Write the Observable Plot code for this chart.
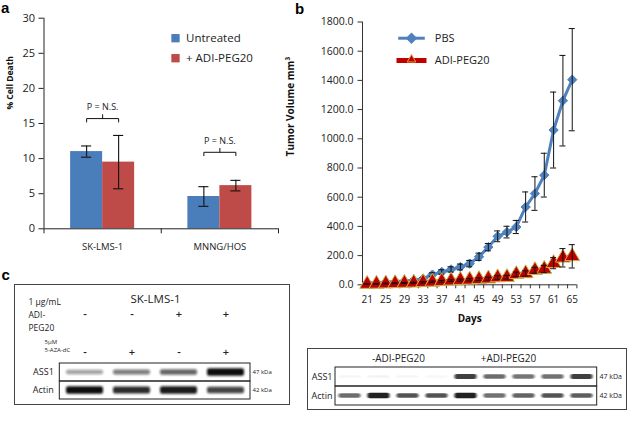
<!DOCTYPE html>
<html><head><meta charset="utf-8">
<script src="https://cdn.jsdelivr.net/npm/d3@7"></script>
<script src="https://cdn.jsdelivr.net/npm/@observablehq/plot@0.6"></script>
<style>
body{margin:0;background:#fff;}
#root{position:relative;width:630px;height:422px;overflow:hidden;background:#fff;font-family:"Open Sans",sans-serif;}
.abs{position:absolute;}
.plabel{position:absolute;font:bold 15px/15px "Liberation Sans",Arial,sans-serif;color:#000;}
.box{position:absolute;border:1px solid #444;box-sizing:border-box;background:#fff;}
</style></head><body><div id="root"></div>
<script>
// ---------- Panel a data ----------
const cellLines = ["SK-LMS-1", "MNNG/HOS"];
const treatments = ["Untreated", "+ ADI-PEG20"];
const untreatedDeath = [11.0, 4.6];
const untreatedErr = [0.8, 1.4];
const adiDeath = [9.5, 6.15];
const adiErr = [3.8, 0.75];
const pLabels = ["P = N.S.", "P = N.S."];
const pBracketY = [15.7, 10.9];
const deathTicks = [0, 5, 10, 15, 20, 25, 30];

// ---------- Panel b data ----------
const days = [21,23,25,27,29,31,33,35,37,39,41,43,45,47,49,51,53,55,57,59,61,63,65];
const pbsVolume = [12,15,18,22,26,32,42,70,88,105,122,145,192,258,332,361,396,533,625,751,1060,1261,1405];
const pbsErr = [3,4,5,5,6,7,8,12,15,18,20,22,25,25,37,40,45,103,115,150,260,310,350];
const adiVolume = [5,6,8,10,12,14,17,20,24,28,32,34,38,42,50,52,72,78,100,108,148,185,195];
const adiVolErr = [2,2,3,3,4,4,5,5,6,6,7,8,9,10,12,12,15,18,20,25,38,63,80];
const seriesNames = ["PBS", "ADI-PEG20"];
const volumeTicks = [0,200,400,600,800,1000,1200,1400,1600,1800];
const dayTicks = [21,25,29,33,37,41,45,49,53,57,61,65];

// ---------- Panel c data ----------
const proteins = ["ASS1", "Actin"];
const kDa = ["47 kDa", "42 kDa"];
const lanesLeft = ["1","2","3","4"];
const adiSigns = ["-","-","+","+"];
const azaSigns = ["-","+","-","+"];
const leftASS1 = [0.4, 0.55, 0.65, 1.0];
const leftActin = [1.0, 0.88, 0.95, 0.78];
const lanesRight = ["1","2","3","4","5","6","7","8","9"];
const rightGroups = ["-ADI-PEG20", "+ADI-PEG20"];
const rightASS1 = [0.04, 0.05, 0.04, 0.03, 0.8, 0.62, 0.58, 0.6, 0.8];
const rightActin = [0.62, 0.92, 0.72, 0.72, 0.92, 0.6, 0.66, 0.72, 0.68];

const FONT = "Open Sans";
const blue = "#4A7EBB", red = "#BE4B48";
const root = document.getElementById("root");
function place(node, left, top, parent = root) {
  const d = document.createElement("div");
  d.className = "abs"; d.style.left = left + "px"; d.style.top = top + "px";
  d.appendChild(node); parent.appendChild(d); return d;
}
const baseStyle = {background: "transparent", fontFamily: FONT, color: "#222", overflow: "visible"};

// ---------- Panel a ----------
const barsA = cellLines.flatMap((c, i) => [
  {cell: i, t: treatments[0], v: untreatedDeath[i], e: untreatedErr[i], x1: i + 0.227, x2: i + 0.5},
  {cell: i, t: treatments[1], v: adiDeath[i], e: adiErr[i], x1: i + 0.5, x2: i + 0.773}
]).map(d => ({...d, xc: (d.x1 + d.x2) / 2}));
const capA = 0.043;
const brackets = cellLines.map((c, i) => {
  const u = barsA[2 * i].xc, a = barsA[2 * i + 1].xc, y = pBracketY[i], m = (u + a) / 2;
  return {label: pLabels[i], m, y, path: [[u, y - 0.48], [u, y], [a, y], [a, y - 0.48]], tick: [[m, y], [m, y + 0.55]]};
});
const catLabels = cellLines.map((c, i) => ({name: c, x: i + 0.5}));
const plotA = Plot.plot({
  width: 285, height: 255, marginLeft: 43.5, marginRight: 7, marginTop: 17.7, marginBottom: 26.7,
  style: {...baseStyle, fontSize: "10px"},
  x: {domain: [0, 2], axis: null},
  y: {domain: [0, 30], axis: null},
  color: {domain: treatments, range: [blue, red]},
  marks: [
    Plot.rectY(barsA, {x1: "x1", x2: "x2", y: "v", fill: "t"}),
    Plot.ruleX(barsA, {x: "xc", y1: d => d.v - d.e, y2: d => d.v + d.e, stroke: "#111", strokeWidth: 1.1}),
    Plot.ruleY(barsA, {y: d => d.v + d.e, x1: d => d.xc - capA, x2: d => d.xc + capA, stroke: "#111", strokeWidth: 1.1}),
    Plot.ruleY(barsA, {y: d => d.v - d.e, x1: d => d.xc - capA, x2: d => d.xc + capA, stroke: "#111", strokeWidth: 1.1}),
    ...brackets.flatMap(b => [
      Plot.line(b.path, {stroke: "#111", strokeWidth: 1}),
      Plot.line(b.tick, {stroke: "#111", strokeWidth: 1})
    ]),
    Plot.text(brackets, {x: "m", y: "y", text: "label", dy: -11, fontSize: 9, fill: "#222"}),
    Plot.ruleX([0], {stroke: "#222"}),
    Plot.ruleY([0], {stroke: "#222"}),
    Plot.axisY({ticks: deathTicks, tickSize: 5, tickPadding: 4, fontSize: 11, label: null, stroke: "#222"}),
    Plot.axisX({ticks: [0, 1, 2], tickSize: 5, tickFormat: () => "", label: null, stroke: "#222"}),
    Plot.text(catLabels, {x: "x", frameAnchor: "bottom", dy: 18.4, text: "name", lineAnchor: "middle", fontSize: 9.5, fill: "#222"}),
    ...treatments.flatMap((t, i) => [
      Plot.dot([t], {frameAnchor: "top-left", dx: 131.5, dy: 20 + i * 20, symbol: "square", r: 4.7, fill: [blue, red][i]}),
      Plot.text([t], {frameAnchor: "top-left", dx: 142, dy: 20 + i * 20, text: d => d, textAnchor: "start", lineAnchor: "middle", fontSize: 11.5, fill: "#222"})
    ]),
    Plot.text(["% Cell Death"], {frameAnchor: "left", dx: -33.5, dy: -14, rotate: -90, text: d => d, lineAnchor: "middle", fontWeight: "bold", fontSize: 8.5, fill: "#111"})
  ]
});
place(plotA, 0, 0);

// ---------- Panel b ----------
const pbsRows = days.map((d, i) => ({day: d, v: pbsVolume[i], e: pbsErr[i]}));
const adiRows = days.map((d, i) => ({day: d, v: adiVolume[i], e: adiVolErr[i]}));
const capB = 0.65;
const boundaries = [...days.map(d => d - 1), days[days.length - 1] + 1];
const lineSwatch = (hw, hh) => ({draw(ctx) { ctx.moveTo(-hw, -hh); ctx.lineTo(hw, -hh); ctx.lineTo(hw, hh); ctx.lineTo(-hw, hh); ctx.closePath(); }});
const errMarks = (rows) => [
  Plot.ruleX(rows, {x: "day", y1: d => d.v - d.e, y2: d => d.v + d.e, stroke: "#111", strokeWidth: 1}),
  Plot.ruleY(rows, {y: d => d.v + d.e, x1: d => d.day - capB, x2: d => d.day + capB, stroke: "#111", strokeWidth: 1}),
  Plot.ruleY(rows, {y: d => d.v - d.e, x1: d => d.day - capB, x2: d => d.day + capB, stroke: "#111", strokeWidth: 1})
];
const plotB = Plot.plot({
  width: 360, height: 330, marginLeft: 92, marginRight: 53.6, marginTop: 21.5, marginBottom: 45.7,
  style: {...baseStyle, fontSize: "10px"},
  x: {domain: [boundaries[0], boundaries[boundaries.length - 1]], axis: null},
  y: {domain: [0, 1800], axis: null},
  marks: [
    Plot.ruleX([boundaries[0]], {stroke: "#333"}),
    Plot.ruleY([0], {stroke: "#333"}),
    Plot.axisY({ticks: volumeTicks, tickSize: 4.5, tickPadding: 4.5, fontSize: 10.5, tickFormat: d => d.toFixed(1), label: null, stroke: "#333"}),
    Plot.axisX({ticks: boundaries, tickSize: 4, tickFormat: () => "", label: null, stroke: "#333"}),
    Plot.axisX({ticks: dayTicks, tickSize: 0, tickPadding: 11, fontSize: 10, label: null}),
    Plot.line(pbsRows, {x: "day", y: "v", stroke: "#4F81BD", strokeWidth: 3}),
    Plot.dot(pbsRows, {x: "day", y: "v", symbol: "diamond2", r: 4.2, fill: "#4F81BD", stroke: "#4F81BD", strokeWidth: 1}),
    ...errMarks(pbsRows),
    Plot.line(adiRows, {x: "day", y: "v", stroke: "#C00000", strokeWidth: 4}),
    Plot.dot(adiRows, {x: "day", y: "v", symbol: "triangle", r: 5.5, fill: "#C00000", stroke: "#C9B24A", strokeWidth: 1}),
    ...errMarks(adiRows),
    // legend
    Plot.dot([seriesNames[0]], {frameAnchor: "top-left", dx: 49, dy: 16.2, symbol: lineSwatch(13.3, 1.5), fill: "#4F81BD"}),
    Plot.dot([seriesNames[0]], {frameAnchor: "top-left", dx: 49, dy: 16.2, symbol: "diamond2", r: 4.2, fill: "#4F81BD", stroke: "#4F81BD"}),
    Plot.dot([seriesNames[1]], {frameAnchor: "top-left", dx: 49, dy: 38.5, symbol: lineSwatch(15, 2.5), fill: "#C00000"}),
    Plot.dot([seriesNames[1]], {frameAnchor: "top-left", dx: 49, dy: 37.5, symbol: "triangle", r: 3.2, fill: "#C00000", stroke: "#E0A040", strokeWidth: 1}),
    ...seriesNames.map((s, i) => Plot.text([s], {frameAnchor: "top-left", dx: 72.3, dy: 16.2 + i * 22.3, text: d => d, textAnchor: "start", lineAnchor: "middle", fontSize: 11, fill: "#222"})),
    Plot.text(["Tumor Volume mm³"], {frameAnchor: "left", dx: -72, dy: 3, rotate: -90, text: d => d, lineAnchor: "middle", fontWeight: "bold", fontSize: 10, fill: "#111"}),
    Plot.text(["Days"], {frameAnchor: "bottom", dy: 33.7, text: d => d, lineAnchor: "middle", fontWeight: "bold", fontSize: 10, fill: "#111"})
  ]
});
place(plotB, 270, 0);

// ---------- Panel c helpers ----------
let blurId = 0;
function blurBars(svg, sd) {
  const id = "blur" + (blurId++);
  const ns = "http://www.w3.org/2000/svg";
  const defs = document.createElementNS(ns, "defs");
  const f = document.createElementNS(ns, "filter");
  f.setAttribute("id", id); f.setAttribute("x", "-30%"); f.setAttribute("y", "-200%");
  f.setAttribute("width", "160%"); f.setAttribute("height", "500%");
  const g = document.createElementNS(ns, "feGaussianBlur");
  g.setAttribute("stdDeviation", sd);
  f.appendChild(g); defs.appendChild(f); svg.insertBefore(defs, svg.firstChild);
  svg.querySelectorAll('g[aria-label="bar"] rect').forEach(r => r.setAttribute("filter", `url(#${id})`));
}
function blotPlot({lanes, ass1, actin, width, height, mL, mR, mT, mB, inset, thick0, thickK, leftFont, leftPad, kdaFont, kdaPad, sd}) {
  const bands = proteins.flatMap((p, pi) => lanes.map((l, li) => {
    const k = (pi ? actin : ass1)[li];
    const t = thick0 + thickK * k;
    return {protein: p, lane: l, k, y1: 0.5 - t / 2, y2: 0.5 + t / 2};
  }));
  const svg = Plot.plot({
    width, height, marginLeft: mL, marginRight: mR, marginTop: mT, marginBottom: mB,
    style: {...baseStyle, fontSize: leftFont + "px"},
    x: {type: "band", domain: lanes, padding: 0, axis: null},
    y: {domain: [0, 1], axis: null},
    fy: {domain: proteins, padding: 0, axis: null},
    marks: [
      Plot.barY(bands, {x: "lane", fy: "protein", y1: "y1", y2: "y2", fill: "#111", fillOpacity: "k", insetLeft: inset, insetRight: inset, rx: 2}),
      Plot.rect(proteins, {fy: d => d, fill: "none", stroke: "#222", strokeWidth: 1}),
      Plot.axisFy({anchor: "left", tickSize: 0, tickPadding: leftPad, fontSize: leftFont, label: null}),
      Plot.axisFy({anchor: "right", tickSize: 0, tickPadding: kdaPad, fontSize: kdaFont, label: null, tickFormat: d => kDa[proteins.indexOf(d)]})
    ]
  });
  blurBars(svg, sd);
  return svg;
}

// ---------- Panel c left ----------
const boxL = document.createElement("div");
boxL.className = "box"; boxL.style.left = "14px"; boxL.style.top = "284px"; boxL.style.width = "276px"; boxL.style.height = "121px";
root.appendChild(boxL);
const signRows = [
  ...lanesLeft.map((l, i) => ({row: "ADI", lane: l, s: adiSigns[i]})),
  ...lanesLeft.map((l, i) => ({row: "AZA", lane: l, s: azaSigns[i]}))
];
const headL = Plot.plot({
  width: 274, height: 90, marginLeft: 44.3, marginRight: 39, marginTop: 8.6, marginBottom: 3.6,
  style: {...baseStyle, fontSize: "9px"},
  x: {type: "band", domain: lanesLeft, padding: 0, axis: null},
  y: {type: "band", domain: ["ADI", "AZA"], padding: 0, axis: null},
  marks: [
    Plot.text(signRows, {x: "lane", y: "row", text: "s", fontSize: 11, fontWeight: 600, fill: "#222"}),
    Plot.text(["SK-LMS-1"], {frameAnchor: "top-left", dx: 70.7, dy: 5.5, text: d => d, lineAnchor: "middle", fontSize: 11.5, fill: "#222"}),
    Plot.text(["1 µg/mL\nADI-\nPEG20"], {frameAnchor: "top-left", dx: -31.3, dy: 19.9, text: d => d, textAnchor: "start", lineAnchor: "middle", fontSize: 8.5, lineHeight: 1.55, fill: "#222"}),
    Plot.text(["5µM\n5-AZA-dC"], {frameAnchor: "top-left", dx: -15.3, dy: 51.6, text: d => d, lineAnchor: "middle", fontSize: 6, lineHeight: 1.2, fill: "#222"})
  ]
});
place(headL, 0, 0, boxL);
const blotL = blotPlot({lanes: lanesLeft, ass1: leftASS1, actin: leftActin, width: 274, height: 48,
  mL: 44.3, mR: 39, mT: 7.3, mB: 3.7, inset: 5, thick0: 0.12, thickK: 0.3, leftFont: 9, leftPad: 6, kdaFont: 6, kdaPad: 2, sd: "1.3 0.9"});
place(blotL, 0, 70, boxL);

// ---------- Panel c right ----------
const boxR = document.createElement("div");
boxR.className = "box"; boxR.style.left = "307px"; boxR.style.top = "348px"; boxR.style.width = "320px"; boxR.style.height = "62px";
root.appendChild(boxR);
const headR = Plot.plot({
  width: 318, height: 19, marginLeft: 35, marginRight: 63, marginTop: 0, marginBottom: 0,
  style: {...baseStyle, fontSize: "10px"},
  x: {type: "band", domain: rightGroups, padding: 0, axis: null},
  marks: [Plot.text(rightGroups, {x: d => d, text: d => d, fontSize: 10, fill: "#222"})]
});
place(headR, 0, 0, boxR);
const blotR = blotPlot({lanes: lanesRight, ass1: rightASS1, actin: rightActin, width: 318, height: 47,
  mL: 27, mR: 29.3, mT: 4.7, mB: 3.3, inset: 3.5, thick0: 0.12, thickK: 0.18, leftFont: 9, leftPad: 3, kdaFont: 7, kdaPad: 2.3, sd: "1.1 0.7"});
place(blotR, 0, 13, boxR);

// ---------- Panel letters ----------
[["a", 1, 0.3], ["b", 295, 0.6], ["c", 1.5, 266.6]].forEach(([t, x, y]) => {
  const d = document.createElement("div"); d.className = "plabel"; d.textContent = t;
  d.style.left = x + "px"; d.style.top = y + "px"; root.appendChild(d);
});
</script></body></html>
